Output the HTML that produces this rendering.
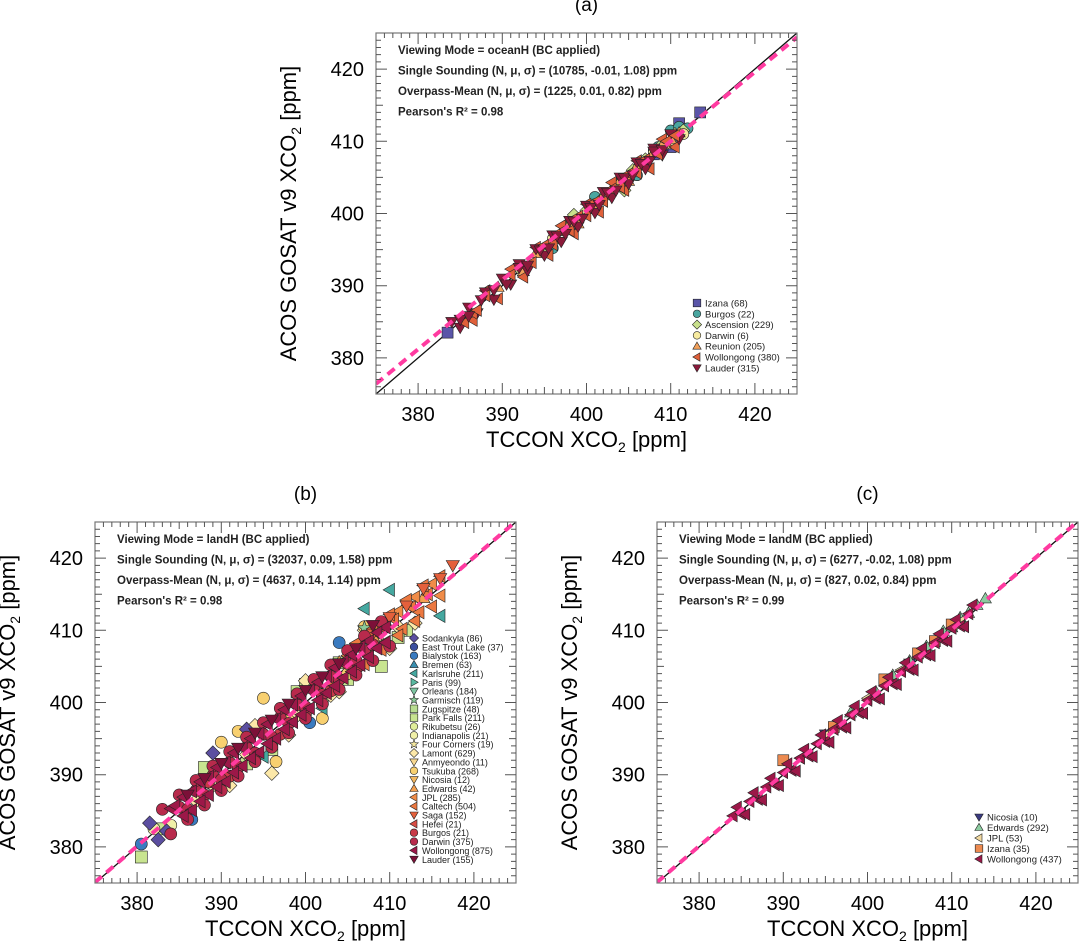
<!DOCTYPE html>
<html><head><meta charset="utf-8"><style>
body{margin:0;background:#fff}
svg{display:block;font-family:"Liberation Sans",sans-serif}
</style></head><body>
<svg id="fig" width="1082" height="942" viewBox="0 0 1082 942" xmlns="http://www.w3.org/2000/svg"></svg>
<script>
// ---- data ----
const tickValues = [380, 390, 400, 410, 420];
const statsA = ["Viewing Mode = oceanH (BC applied)", "Single Sounding (N, μ, σ) = (10785, -0.01, 1.08) ppm", "Overpass-Mean (N, μ, σ) = (1225, 0.01, 0.82) ppm", "Pearson's R² = 0.98"];
const statsB = ["Viewing Mode = landH (BC applied)", "Single Sounding (N, μ, σ) = (32037, 0.09, 1.58) ppm", "Overpass-Mean (N, μ, σ) = (4637, 0.14, 1.14) ppm", "Pearson's R² = 0.98"];
const statsC = ["Viewing Mode = landM (BC applied)", "Single Sounding (N, μ, σ) = (6277, -0.02, 1.08) ppm", "Overpass-Mean (N, μ, σ) = (827, 0.02, 0.84) ppm", "Pearson's R² = 0.99"];
const fitA = [376.4, 0.96];
const fitB = [375.1, 1.0];
const fitC = [375.1, 1.0];

// panel (a) series
const izanaAx = [383.5,398,408,410,411,413.5];
const izanaAy = [383.5,398.3,408.2,409.2,412.5,414];
const burgosAx = [398,404,408.5,410,411,412,396,401,406];
const burgosAy = [398.6,404.5,409.2,411.5,412,411.8,395.2,402.3,405.3];
const ascAx = [392,395,397.5,400,402,403.5,405.5,407,409,410.5,411.5,398.5,404.5];
const ascAy = [392.4,395.0,398.0,400.4,402.2,404.0,406.0,407.5,409.6,411,411.5,399.8,403.2];
const darwinAx = [396,401,404,408,410,411.5];
const darwinAy = [396.5,401.3,404.2,408.5,409.7,411];
const reunionAx = [389.5,392.5,394,396,398,399,401,402,404,405,406,407,408,409,410,411];
const reunionAy = [389.8,392.0,394.5,396.4,398.6,398.6,400.6,402.5,404.6,404.5,406.6,406.7,408.5,409.5,410.3,411.2];
const wollAx = [385.5,386.5,387,388,391,393.5,395,396,397,398,399,400,401,402,403,404,405,406,407,408.5,409.5,410.5];
const wollAy = [384.9,386.2,386.6,388.6,391.5,393.2,395.6,395.7,397.5,397.6,399.6,399.7,401.6,401.7,403.4,403.6,405.5,405.6,407.5,408.2,410,410.8];
const wollA2x = [386.5,388,389.5,391,392.5,394,395.5,397,398.5,400,401.5,403,404.5,406,407.5,409,410.5];
const wollA2y = [385.2,389.3,388.2,392.3,391.2,395.3,394.2,398.3,397.2,401.3,400.2,404.3,403.2,407.3,406.2,410.3,409.2];
const lauderAx = [385,386,387.5,389,390.5,392,393,394.5,395.5,396.5,397.5,398.5,399.5,400.5,401.5,402.5,403.5,404.5,405.5,406.5,407.5,408,409];
const lauderAy = [385.3,385.8,388,389.4,390.2,392.5,392.8,394.9,395.2,396.9,397.2,398.9,399.3,400.8,401.2,402.9,403.2,404.9,405.3,406.9,407.3,408.6,408.8];
const lauderA2x = [384,385,386,387,388,389,390,391,392,393,394,395,396,397,398,399,400,401,402,403,404,405,406,407,408,409,410,411];
const lauderA2y = [385.0,384.2,387.0,386.2,389.1,388.1,391.0,390.2,393.0,392.1,395.1,394.2,397.0,396.1,399.0,398.2,401.1,400.1,403.0,402.2,405.0,404.1,407.1,406.2,409.0,408.1,411.0,410.3];

// panel (b) series
const sodBx = [381.5,382.5,383.5,389,393]; const sodBy = [383.3,381,382.2,393,396.3];
const bialBx = [380.5,386.5,400.5,404]; const bialBy = [380.4,383.8,397.2,408.3];
const karlBx = [390,395,402,407,410,416]; const karlBy = [389.8,392.5,399.2,413,415.6,412];
const garmBx = [388,407]; const garmBy = [388.8,410.3];
const parkBx = [380.5,383,386,393,400,402,405,409,412,388,396,399,404,411]; const parkBy = [378.6,382.5,384.6,391.5,402.5,400.5,403.2,405,410,391,393.5,401.5,405.5,409];
const indyBx = [382,384,389,392,397.5]; const indyBy = [382.5,383,389.5,391,397.8];
const lamontBx = [387,389,393,396,399,401,403,406,409,411,391,394,398,400,404,407,410,413]; const lamontBy = [386.4,388.5,392.8,390.2,398.2,402,401,404.5,408.2,410.5,388.5,396.8,395.5,403,401.5,410,407.5,411];
const tsukBx = [390,392,395,396.5,398,402,405,407]; const tsukBy = [394.5,396,400.6,391.8,397.5,397.8,404,410.5];
const edwBx = [404,408,412,414]; const edwBy = [405.6,409.2,413.8,414.5];
const jplBx = [405,407,409,411,413,415,416]; const jplBy = [406.5,408.8,410.6,412.6,414.6,416.4,414.8];
const caltBx = [403,404.5,405.5,406.5,407.5,408.5,409.5,410.5,411.5,412.5,413.5,414.5,406,407,408,409,410,411,412,413,414,415,416]; const caltBy = [402.5,405.5,404.8,407.8,406.6,409.6,408.4,411.5,410.2,413.2,412.5,415,408.2,405.3,410.2,407.3,412.2,409.3,414.2,411.3,416.2,413.3,417.5];
const sagaBx = [408,410,412,414,416,417.5]; const sagaBy = [409.5,411.8,413.4,415.8,417.2,419];
const burgBx = [388.5,391,394,397,400,403,406,409.5]; const burgBy = [389,389.8,392.3,395.6,398.4,401.6,404.6,410.5];
const darwBx = [385,386,387,388,389,390,391,392,393,394,395,396,397,398,399,400,401,402,403,404,405,406,407,408,383,384,385,386,387,388,389,390,391,392,393,394,395,396,397,398,399,400,401,402,403,404,405,406,407,408,409,410];
const darwBy = [385.5,385.2,387.8,387.2,389.9,389.3,391.7,391.1,393.8,393.0,395.6,395.2,397.9,397.1,399.7,399.4,401.8,401.1,403.6,403.2,405.4,405.8,407.2,408.0,385.2,381.8,387.2,383.8,389.2,385.8,391.2,387.8,393.2,389.8,395.2,391.8,397.2,393.8,399.2,395.8,401.2,397.8,403.2,399.8,405.2,401.8,407.2,403.8,409.2,405.8,411.2,407.8];
const wollBx = [384,385.5,386.5,387.5,388.5,389.5,390.5,391.5,392.5,393.5,394.5,395.5,396.5,397.5,398.5,399.5,400.5,401.5,402.5,403.5,404.5,405.5,406.5,407.5,408.5,409.5,384.5,385.5,386.5,387.5,388.5,389.5,390.5,391.5,392.5,393.5,394.5,395.5,396.5,397.5,398.5,399.5,400.5,401.5,402.5,403.5,404.5,405.5,406.5,407.5,408.5,409.5];
const wollBy = [385.3,386.9,385.1,389.0,387.2,391.0,389.0,393.0,391.2,395.0,393.1,397.0,395.0,399.0,397.3,400.9,399.2,402.8,401.3,404.8,403.4,406.6,405.2,408.5,407.5,410.4,385.7,384.3,387.7,386.3,389.7,388.3,391.7,390.3,393.7,392.3,395.7,394.3,397.7,396.3,399.7,398.3,401.7,400.3,403.7,402.3,405.7,404.3,407.7,406.3,409.7,408.3];
const laudBx = [386,388,390,392,394,396,398,400,402,404,406,408]; const laudBy = [387.2,389.5,391.6,393.7,395.8,397.6,399.8,401.7,403.6,405.4,407.5,410.7];

// panel (c) series
const nicCx = [395,405]; const nicCy = [395.6,405.4];
const edwCx = [398,401,403,405,407,409,410,411,412,413,414]; const edwCy = [398.6,401.5,403.8,405.8,407.8,409.9,410.4,411.8,412.4,413.5,414.4];
const jplCx = [392,395,400,404,408,411]; const jplCy = [392.3,395.4,400.6,404.5,408.3,411.2];
const izaCx = [390,396,402,406,408,410]; const izaCy = [392,396.6,403.2,406.8,408.5,410.8];
const wolCx = [384,385,386,387,388,389,390,391,392,393,394,395,396,397,398,399,400,401,402,403,404,405,406,407,408,409,410,411,412,384.5,385.5,386.5,387.5,388.5,389.5,390.5,391.5,392.5,393.5,394.5,395.5,396.5,397.5,398.5,399.5,400.5,401.5,402.5,403.5,404.5,405.5,406.5,407.5,408.5,409.5,410.5,411.5,412.5];
const wolCy = [384.3,384.6,386.3,386.6,388.3,388.6,390.3,390.6,392.3,392.6,394.3,394.6,396.3,396.6,398.3,398.6,400.3,400.6,402.3,402.6,404.3,404.6,406.3,406.6,408.3,408.6,410.3,410.6,412.3,385.5,384.5,387.5,386.5,389.5,388.5,391.5,390.5,393.5,392.5,395.5,394.5,397.5,396.5,399.5,398.5,401.5,400.5,403.5,402.5,405.5,404.5,407.5,406.5,409.5,408.5,411.5,410.5,413.5];

// legends [label, shape, color]
const legendA = [["Izana (68)","square","#5a55a8"],["Burgos (22)","circle","#4aa6a0"],["Ascension (229)","diamond","#c8e08c"],["Darwin (6)","circle","#f7eba0"],["Reunion (205)","up","#f2a05a"],["Wollongong (380)","left","#e0603a"],["Lauder (315)","down","#8b1a3a"]];
const legendB = [["Sodankyla (86)","diamond","#5b4ea0"],["East Trout Lake (37)","circle","#3b4fa0"],["Bialystok (163)","circle","#3a7bc0"],["Bremen (63)","up","#3a8fb0"],["Karlsruhe (211)","left","#45a8a0"],["Paris (99)","right","#5ab8a0"],["Orleans (184)","down","#7cc4a0"],["Garmisch (119)","star","#8ccc98"],["Zugspitze (48)","square","#b8dc90"],["Park Falls (211)","square","#c8e490"],["Rikubetsu (26)","circle","#e0ee9a"],["Indianapolis (21)","circle","#f0f0a8"],["Four Corners (19)","star","#f4e8a0"],["Lamont (629)","diamond","#fce8a8"],["Anmyeondo (11)","down","#f8d890"],["Tsukuba (268)","circle","#f8d070"],["Nicosia (12)","down","#f4b860"],["Edwards (42)","up","#f4a050"],["JPL (285)","left","#f08c48"],["Caltech (504)","left","#ec7840"],["Saga (152)","down","#e4603c"],["Hefei (21)","left","#d84c44"],["Burgos (21)","circle","#c83a48"],["Darwin (375)","circle","#b82a4c"],["Wollongong (875)","left","#9c1848"],["Lauder (155)","down","#7c1038"]];
const legendC = [["Nicosia (10)","down","#3a3a80"],["Edwards (292)","up","#8ccca0"],["JPL (53)","left","#f0d8a0"],["Izana (35)","square","#ec8a50"],["Wollongong (437)","left","#9c1848"]];

// ---- drawing ----
const NS = "http://www.w3.org/2000/svg";
const svg = document.getElementById('fig');
function el(tag, attrs, parent){ const e=document.createElementNS(NS,tag); for(const k in attrs) e.setAttribute(k,attrs[k]); (parent||svg).appendChild(e); return e; }

function marker(g, shape, cx, cy, r, color){
  let e;
  if(shape==="circle") e=el('circle',{cx,cy,r},g);
  else if(shape==="square") e=el('rect',{x:cx-r,y:cy-r,width:2*r,height:2*r},g);
  else {
    let pts;
    if(shape==="diamond") pts=[[0,-r*1.2],[r*1.2,0],[0,r*1.2],[-r*1.2,0]];
    else if(shape==="up") pts=[[0,-r*1.1],[r*1.1,r*0.8],[-r*1.1,r*0.8]];
    else if(shape==="down") pts=[[0,r*1.1],[r*1.1,-r*0.8],[-r*1.1,-r*0.8]];
    else if(shape==="left") pts=[[-r*1.1,0],[r*0.8,-r*1.1],[r*0.8,r*1.1]];
    else if(shape==="right") pts=[[r*1.1,0],[-r*0.8,-r*1.1],[-r*0.8,r*1.1]];
    else { pts=[]; for(let i=0;i<10;i++){const a=-Math.PI/2+i*Math.PI/5; const rr=i%2?r*0.5:r*1.2; pts.push([rr*Math.cos(a),rr*Math.sin(a)]);} }
    e=el('polygon',{points:pts.map(p=>(cx+p[0]).toFixed(1)+','+(cy+p[1]).toFixed(1)).join(' ')},g);
  }
  e.setAttribute('fill',color); e.setAttribute('stroke','#222'); e.setAttribute('stroke-width','0.6');
  return e;
}

function panel(id, X0, Y0, title, stats, fit, series, legend, legX, legY, legDy, r, legFont){
  const W=421, H=361, lo=375, hi=425;
  const sx=v=>X0+(v-lo)/(hi-lo)*W, sy=v=>Y0+H-(v-lo)/(hi-lo)*H;
  const g=el('g',{});
  
  
  const t=el('text',{x:X0+W/2,y:Y0-22,'text-anchor':'middle','font-size':19},g); t.textContent='('+id+')';
  
  
  const clip=el('clipPath',{id:'clip'+id},g); el('rect',{x:X0,y:Y0,width:W,height:H},clip);
  const pg=el('g',{'clip-path':'url(#clip'+id+')'},g);
  
  
  const one=el('line',{x1:sx(lo),y1:sy(lo),x2:sx(hi),y2:sy(hi),stroke:'#111','stroke-width':1.3},pg);
  
  
  for(const s of series){ for(let i=0;i<s[0].length;i++){
    const m=marker(pg,s[2],sx(s[0][i]),sy(s[1][i]),r,s[3]);
    
    
  } }
  const fl=el('line',{x1:sx(lo),y1:sy(fit[0]),x2:sx(hi),y2:sy(fit[0]+fit[1]*(hi-lo)),stroke:'#ff3aa0','stroke-width':4,'stroke-dasharray':'9,6'},pg);
  
  
  const fr=el('rect',{x:X0,y:Y0,width:W,height:H,fill:'none',stroke:'#777','stroke-width':1.2},g);
  
  
  let d='';
  for(let v=lo+1;v<hi;v++){
    const L=(v%10===0)?11:(v%5===0?7:5);
    d+=`M${sx(v)},${Y0+H}v${-L}M${sx(v)},${Y0}v${L}M${X0},${sy(v)}h${L}M${X0+W},${sy(v)}h${-L}`;
  }
  el('path',{d,stroke:'#555','stroke-width':1,fill:'none'},g);
  for(const v of tickValues){
    const a=el('text',{x:sx(v),y:Y0+H+27,'text-anchor':'middle','font-size':20},g); a.textContent=v;
    
    
    const b=el('text',{x:X0-12,y:sy(v)+7,'text-anchor':'end','font-size':20},g); b.textContent=v;
    
    
  }
  const xt=el('text',{x:X0+W/2,y:Y0+H+53,'text-anchor':'middle','font-size':22},g);
  xt.innerHTML='TCCON XCO<tspan font-size="14" dy="5">2</tspan><tspan dy="-5"> [ppm]</tspan>';
  
  
  const yx=X0-80, yc=Y0+H/2;
  const yt=el('text',{x:yx,y:yc,'text-anchor':'middle','font-size':22,transform:`rotate(-90 ${yx} ${yc})`},g);
  yt.innerHTML='ACOS GOSAT v9 XCO<tspan font-size="14" dy="5">2</tspan><tspan dy="-5"> [ppm]</tspan>';
  
  
  stats.forEach((s,i)=>{
    const st=el('text',{x:X0+22,y:Y0+21+i*20.5,'font-size':11.5,'font-weight':'bold',fill:'#222'},g); st.textContent=s;
    
    
  });
  const lg=el('g',{},g);
  
  
  legend.forEach((e,i)=>{
    const y=legY+i*legDy;
    marker(lg,e[1],legX,y,3.8,e[2]);
    const lt=el('text',{x:legX+8,y:y+3.5,'font-size':legFont,fill:'#222'},lg); lt.textContent=e[0];
    
    
  });
}

panel('a',376,33,'(a)',statsA,fitA,[
 [izanaAx,izanaAy,'square','#5a55a8','izana'],[burgosAx,burgosAy,'circle','#4aa6a0','burgos'],
 [ascAx,ascAy,'diamond','#c8e08c','ascension'],[darwinAx,darwinAy,'circle','#f7eba0','darwin'],
 [reunionAx,reunionAy,'up','#f2a05a','reunion'],[wollA2x,wollA2y,'left','#e0603a','wollongong'],
 [lauderA2x,lauderA2y,'down','#8b1a3a','lauder'],[wollAx,wollAy,'left','#e0603a','wollongong'],
 [lauderAx,lauderAy,'down','#8b1a3a','lauder']],legendA,697,303,10.8,5.5,9.5);

panel('b',95,522,'(b)',statsB,fitB,[
 [parkBx,parkBy,'square','#c8e490','park-falls'],[indyBx,indyBy,'circle','#f0f0a8','indianapolis'],
 [lamontBx,lamontBy,'diamond','#fce8a8','lamont'],[tsukBx,tsukBy,'circle','#f8d070','tsukuba'],
 [sodBx,sodBy,'diamond','#5b4ea0','sodankyla'],[bialBx,bialBy,'circle','#3a7bc0','bialystok'],
 [karlBx,karlBy,'left','#45a8a0','karlsruhe'],[garmBx,garmBy,'star','#8ccc98','garmisch'],
 [edwBx,edwBy,'up','#f4a050','edwards'],[jplBx,jplBy,'left','#f08c48','jpl'],
 [caltBx,caltBy,'left','#ec7840','caltech'],[sagaBx,sagaBy,'down','#e4603c','saga'],
 [burgBx,burgBy,'circle','#c83a48','burgos'],[darwBx,darwBy,'circle','#b82a4c','darwin'],
 [wollBx,wollBy,'left','#9c1848','wollongong'],[laudBx,laudBy,'down','#7c1038','lauder']],legendB,414,638,8.85,6,9);

panel('c',657,522,'(c)',statsC,fitC,[
 [nicCx,nicCy,'down','#3a3a80','nicosia'],[edwCx,edwCy,'up','#8ccca0','edwards'],
 [jplCx,jplCy,'left','#f0d8a0','jpl'],[izaCx,izaCy,'square','#ec8a50','izana'],
 [wolCx,wolCy,'left','#9c1848','wollongong']],legendC,979,817,10.5,5.5,9.5);
</script>
</body></html>
